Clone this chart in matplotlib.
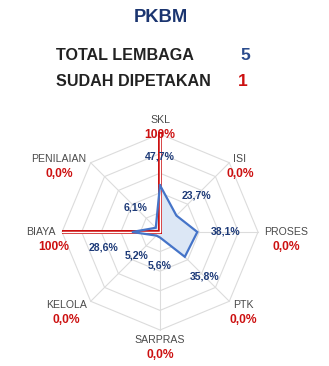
import numpy as np
import matplotlib
matplotlib.use("Agg")
import matplotlib.pyplot as plt

plt.rcParams["font.family"] = ["Liberation Sans", "DejaVu Sans"]

# ---- data ----
title = "PKBM"
total_label = "TOTAL LEMBAGA"
total_value = 5
mapped_label = "SUDAH DIPETAKAN"
mapped_value = 1

categories = ["SKL", "ISI", "PROSES", "PTK", "SARPRAS", "KELOLA", "BIAYA", "PENILAIAN"]
progress = [47.7, 23.7, 38.1, 35.8, 5.6, 5.2, 28.6, 6.1]      # blue series
mapped = [100, 0, 0, 0, 0, 0, 100, 0]                         # red series
grid_levels = [20, 40, 60, 80, 100]


def fmt(v):
    if v >= 100:
        return "100%"
    return f"{v:.1f}%".replace(".", ",")


# ---- layout ----
W, H, DPI = 329, 366, 100
cx, cy = 160, 232          # radar centre in pixels
ppu = 0.98                 # pixels per percent unit
PT = 72 / DPI              # points per pixel

NAVY = "#1b3570"
BLUE_TXT = "#1d3a78"
RED = "#cc1010"
GREY_TXT = "#4a4a4a"

fig = plt.figure(figsize=(W / DPI, H / DPI), dpi=DPI)
ax = fig.add_axes([0, 0, 1, 1])
ax.set_xlim(-cx / ppu, (W - cx) / ppu)
ax.set_ylim(-(H - cy) / ppu, cy / ppu)
ax.axis("off")

n = len(categories)
theta = np.arange(n) * 2 * np.pi / n
dx, dy = np.sin(theta), np.cos(theta)


def closed(a):
    return np.append(a, a[0])


# octagonal grid and spokes
for lvl in grid_levels:
    ax.plot(closed(dx * lvl), closed(dy * lvl), color="#dcdcdc", lw=0.8, zorder=1)
for i in range(n):
    ax.plot([0, dx[i] * grid_levels[-1]], [0, dy[i] * grid_levels[-1]],
            color="#dcdcdc", lw=0.8, zorder=1)

prog = np.array(progress)
mp = np.array(mapped, dtype=float)

# blue area
ax.fill(closed(dx * prog), closed(dy * prog), color="#dce7f5", zorder=2, lw=0)
# red series (double-stroked line)
ax.plot(closed(dx * mp), closed(dy * mp), color=RED, lw=2.8, zorder=3,
        solid_joinstyle="miter")
ax.plot(closed(dx * mp), closed(dy * mp), color="white", lw=0.9, zorder=3.1,
        solid_joinstyle="miter")
# blue outline
ax.plot(closed(dx * prog), closed(dy * prog), color="#4574c8", lw=1.6, zorder=4,
        solid_joinstyle="miter")

# blue value labels
for i, v in enumerate(progress):
    r = v + 29
    off = (0, -15 * PT) if categories[i] == "BIAYA" else (0, 0)
    ax.annotate(fmt(v), xy=(dx[i] * r, dy[i] * r), xytext=off,
                textcoords="offset points", ha="center", va="center",
                fontsize=7.6, fontweight="bold", color=BLUE_TXT, zorder=5)

# category names with red values beneath
for i, name in enumerate(categories):
    r = 106
    if dy[i] > 0.9:
        r += 8
    elif dy[i] < -0.9:
        r += 4
    if dx[i] > 0.1:
        ha = "left"
    elif dx[i] < -0.1:
        ha = "right"
    else:
        ha = "center"
    t = ax.text(dx[i] * r, dy[i] * r, name, ha=ha, va="center",
                fontsize=7.6, color=GREY_TXT, zorder=5)
    shift = 12 * PT if name == "BIAYA" else 0
    ax.annotate(fmt(mapped[i]), xy=(0.5, 0.5), xycoords=t,
                xytext=(shift, -15 * PT), textcoords="offset points",
                ha="center", va="center", fontsize=8.7, fontweight="bold",
                color=RED, zorder=6)

# header
def fx(px):
    return px / W


def fy(py):
    return 1 - py / H


fig.text(fx(161), fy(17), title, ha="center", va="center",
         fontsize=13.2, fontweight="bold", color=NAVY)
fig.text(fx(56), fy(55.5), total_label, ha="left", va="center",
         fontsize=11.6, fontweight="bold", color="#222222")
fig.text(fx(245), fy(55.5), str(total_value), ha="center", va="center",
         fontsize=12.5, fontweight="bold", color="#2a4b8d")
fig.text(fx(56), fy(82), mapped_label, ha="left", va="center",
         fontsize=11.6, fontweight="bold", color="#222222")
fig.text(fx(243), fy(82), str(mapped_value), ha="center", va="center",
         fontsize=12.5, fontweight="bold", color=RED)

fig.savefig("out.png", dpi=DPI)
